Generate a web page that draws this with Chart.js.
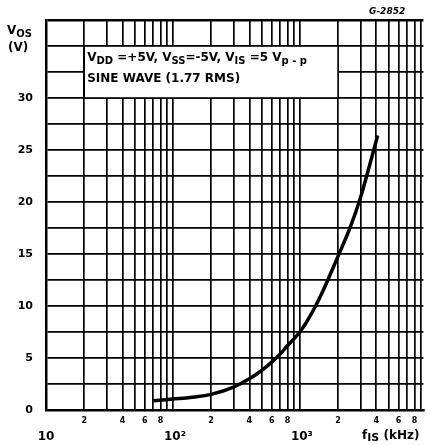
<!DOCTYPE html>
<html>
<head>
<meta charset="utf-8">
<script src="https://cdn.jsdelivr.net/npm/chart.js@4"></script>
<style>
  html, body { margin: 0; padding: 0; background: #fff; }
  #wrap { width: 427px; height: 445px; }
</style>
</head>
<body>
<div id="wrap"><canvas id="c" width="427" height="445"></canvas></div>
<script>
// ---- data ----
const freqKHz = [70, 100, 150, 200, 300, 400, 500, 600, 700, 800, 1000, 1200, 1500, 2000, 2500, 3000, 3500, 4100];
const vosVolts = [0.9, 1.05, 1.25, 1.5, 2.2, 3.0, 3.8, 4.6, 5.4, 6.2, 7.5, 9.0, 11.3, 14.8, 17.6, 20.4, 23.3, 26.4];
const xTickValues = [10,20,30,40,50,60,70,80,90,100,200,300,400,500,600,700,800,900,1000,2000,3000,4000,5000,6000,7000,8000,9000];
const xMinorLabelled = [2, 4, 6, 8];
const xDecadeLabels = [[10, '10'], [100, '10²'], [1000, '10³']];
const yLabelled = [0, 5, 10, 15, 20, 25, 30];
const noteLine1 = [['V', 0], ['DD', 1], [' =+5V, V', 0], ['SS', 1], ['=-5V, V', 0], ['IS', 1], [' =5 V', 0], ['p - p', 1]];
const noteLine2 = 'SINE WAVE (1.77 RMS)';
const figCode = 'G-2852';

const FONT = '"DejaVu Sans", "Liberation Sans", Arial, sans-serif';

function drawRich(ctx, parts, x, y, size, subSize, subDrop) {
  let cx = x;
  for (const [t, sub] of parts) {
    ctx.font = 'bold ' + (sub ? subSize : size) + 'px ' + FONT;
    ctx.fillText(t, cx, sub ? y + subDrop : y);
    cx += ctx.measureText(t).width;
  }
  return cx;
}

const textPlugin = {
  id: 'textPlugin',
  beforeDatasetsDraw(chart) {
    const ctx = chart.ctx;
    const xs = chart.scales.x, ys = chart.scales.y;
    const l = xs.getPixelForValue(20), r = xs.getPixelForValue(2000);
    const t = ys.getPixelForValue(35), b = ys.getPixelForValue(30);
    ctx.save();
    ctx.fillStyle = '#fff';
    ctx.fillRect(l, t, r - l, b - t);
    ctx.strokeStyle = '#000';
    ctx.lineWidth = 1.6;
    ctx.strokeRect(l, t, r - l, b - t);
    ctx.fillStyle = '#000';
    ctx.textBaseline = 'middle';
    ctx.textAlign = 'left';
    drawRich(ctx, noteLine1, l + 3, t + 12, 12, 10, 3);
    ctx.font = 'bold 12px ' + FONT;
    ctx.fillText(noteLine2, l + 3, t + 33);
    ctx.restore();
  },
  afterDraw(chart) {
    const ctx = chart.ctx;
    const xs = chart.scales.x;
    ctx.save();
    ctx.fillStyle = '#000';
    ctx.textBaseline = 'middle';
    // decade labels
    ctx.textAlign = 'center';
    ctx.font = 'bold 12px ' + FONT;
    for (const [v, s] of xDecadeLabels) {
      ctx.fillText(s, xs.getPixelForValue(v) + (v === 10 ? 0 : 2), 437);
    }
    // x axis title
    ctx.textAlign = 'left';
    drawRich(ctx, [['f', 0], ['IS', 1], [' (kHz)', 0]], 362, 436, 12, 11, 2);
    // y axis title
    drawRich(ctx, [['V', 0], ['OS', 1]], 7, 31, 12, 10, 3);
    ctx.font = 'bold 12px ' + FONT;
    ctx.fillText('(V)', 8, 48);
    // figure code
    ctx.font = 'italic bold 9px ' + FONT;
    ctx.fillText(figCode, 369, 12);
    ctx.restore();
  }
};

new Chart(document.getElementById('c'), {
  type: 'line',
  data: {
    labels: freqKHz,
    datasets: [{
      data: freqKHz.map((f, i) => ({ x: f, y: vosVolts[i] })),
      borderColor: '#000',
      borderWidth: 3.5,
      pointRadius: 0,
      fill: false,
      cubicInterpolationMode: 'monotone'
    }]
  },
  options: {
    responsive: false,
    animation: false,
    devicePixelRatio: 1,
    layout: { padding: { left: 0, top: 20, right: 0, bottom: 0 } },
    plugins: { legend: { display: false }, tooltip: { enabled: false } },
    scales: {
      x: {
        type: 'logarithmic',
        min: 10,
        max: 9400,
        afterBuildTicks(scale) { scale.ticks = xTickValues.map(v => ({ value: v })); },
        afterFit(scale) { scale.height = 35; },
        border: { display: true, color: '#000', width: 2.5 },
        grid: { color: '#000', lineWidth: 1.7, drawTicks: false },
        ticks: {
          autoSkip: false,
          maxRotation: 0,
          padding: 6,
          color: '#000',
          font: { family: FONT, size: 8, weight: 'bold' },
          callback(v) {
            const m = v / Math.pow(10, Math.floor(Math.log10(v) + 1e-9));
            const r = Math.round(m);
            return xMinorLabelled.includes(r) && Math.abs(m - r) < 1e-6 ? String(r) : '';
          }
        }
      },
      y: {
        min: 0,
        max: 37.5,
        afterBuildTicks(scale) {
          const t = [];
          for (let v = 0; v <= 37.5 + 1e-9; v += 2.5) t.push({ value: v });
          scale.ticks = t;
        },
        afterFit(scale) { scale.width = 46; },
        border: { display: true, color: '#000', width: 2.5 },
        grid: {
          color: '#000',
          drawTicks: false,
          lineWidth: ctx => (ctx.tick && Math.abs(ctx.tick.value - 37.5) < 1e-6) ? 2.5 : 1.7
        },
        ticks: {
          padding: 13,
          color: '#000',
          font: { family: FONT, size: 11, weight: 'bold' },
          callback(v) { return yLabelled.includes(v) ? String(v) : ''; }
        }
      }
    }
  },
  plugins: [textPlugin]
});
</script>
</body>
</html>
